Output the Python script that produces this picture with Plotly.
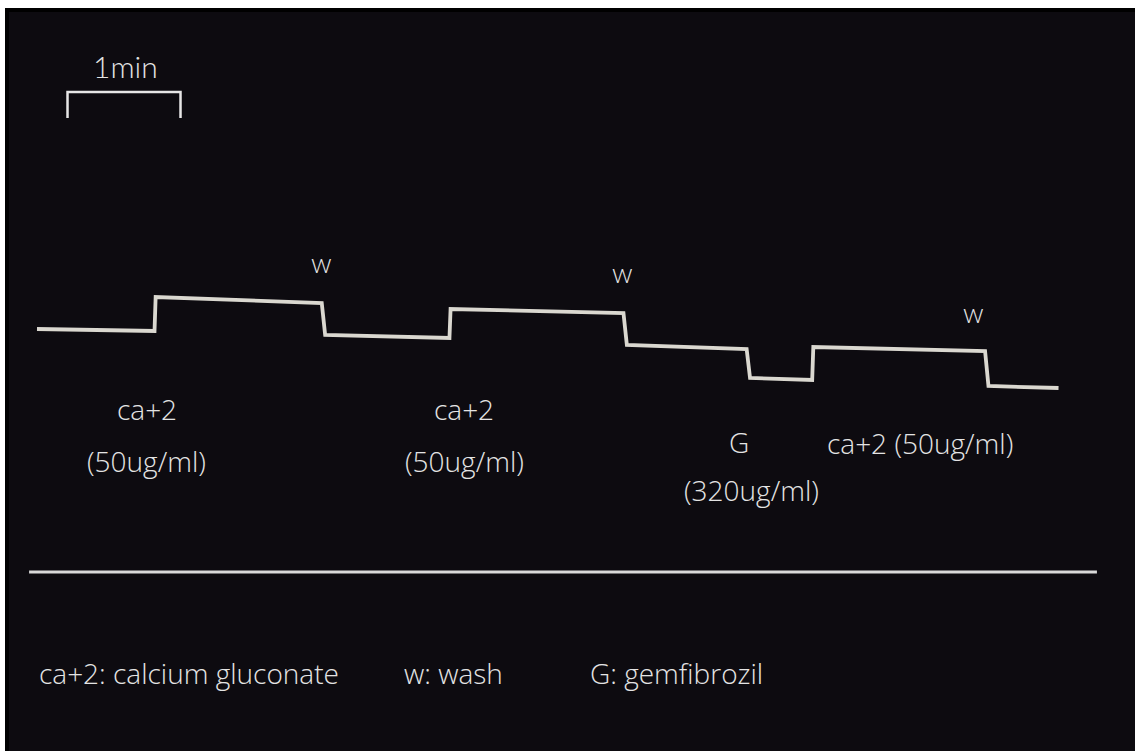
"""
Recreate the isolated tissue recording chart (calcium gluconate / gemfibrozil)
Step trace of tissue response with drug additions, washes and a 1 min scale bar
"""

import plotly.graph_objects as go

# Recorded trace: time in minutes from the start of the tracing, response in arbitrary units
time_min = [0.00, 1.04, 1.05, 2.52, 2.55, 3.65, 3.66, 5.19, 5.22, 6.28, 6.31, 6.86, 6.87, 8.39, 8.42, 9.04]
response = [0.0, -0.2, 3.2, 2.6, -0.6, -0.9, 2.0, 1.6, -1.6, -2.0, -4.9, -5.1, -1.8, -2.2, -5.7, -5.9]

# Scale bar (1 minute)
scale_bar_t = [0.27, 0.27, 1.27, 1.27]
scale_bar_v = [21.1, 23.7, 23.7, 21.1]

# Wash marks
wash_t = [2.52, 5.18, 8.29]
wash_v = [6.6, 5.6, 1.6]

# Drug labels (text, time, level)
drug_labels = ["ca+2", "(50ug/ml)", "ca+2", "(50ug/ml)", "G", "(320ug/ml)", "ca+2 (50ug/ml)"]
drug_t = [0.97, 0.97, 3.78, 3.78, 6.21, 6.32, 7.81]
drug_v = [-8.0, -13.2, -8.0, -13.2, -11.3, -16.1, -11.4]

# Key below the separator
key_labels = ["ca+2: calcium gluconate", "w: wash", "G: gemfibrozil"]
key_t = [0.00, 3.23, 4.88]
key_v = -34.4

TITLE = ("Effect of calcium gluconate and gemfibrozil on contractions of the "
         "isolated ileum preparation of guinea pig")

W, H = 1135, 751
TXT = "#e4e4e4"
FONT = "'Open Sans', Lato, 'Noto Sans', sans-serif"
FONT_NARROW = "Lato, 'Noto Sans', sans-serif"


def build_figure():
    fig = go.Figure()

    # tissue response trace
    fig.add_trace(go.Scatter(
        x=time_min, y=response, mode="lines",
        line=dict(color="#dad8d0", width=3.8),
        hoverinfo="skip", showlegend=False
    ))

    # 1 min bracket
    fig.add_trace(go.Scatter(
        x=scale_bar_t, y=scale_bar_v, mode="lines",
        line=dict(color="#e6e6e6", width=2.5),
        hoverinfo="skip", showlegend=False
    ))

    annotations = []
    annotations.append(dict(x=0.78, y=26.3, text="1min",
                            font=dict(size=30, color=TXT, family=FONT_NARROW, weight=300)))
    for t, v in zip(wash_t, wash_v):
        annotations.append(dict(x=t, y=v, text="w",
                                font=dict(size=27, color=TXT, family=FONT_NARROW, weight=300)))
    for txt, t, v in zip(drug_labels, drug_t, drug_v):
        annotations.append(dict(x=t, y=v, text=txt,
                                font=dict(size=28, color=TXT, family=FONT, weight=300)))
    for txt, t in zip(key_labels, key_t):
        annotations.append(dict(x=t, y=key_v, text=txt, xanchor="left",
                                font=dict(size=28, color=TXT, family=FONT, weight=300)))
    for a in annotations:
        a.update(xref="x", yref="y", showarrow=False)
        a.setdefault("xanchor", "center")
        a["yanchor"] = "middle"

    # page title, mostly cut off at the top of the page (only descenders show)
    annotations.append(dict(
        x=605 / W, y=1, xref="paper", yref="paper", xanchor="center", yanchor="bottom",
        yshift=-2, showarrow=False, text=TITLE,
        font=dict(size=18, color="#111111", family="'Liberation Serif', 'DejaVu Serif', serif")
    ))

    shapes = [
        # inner (slightly lighter) photo area inside the black border
        dict(type="rect", xref="paper", yref="paper", layer="below",
             x0=9 / W, x1=1, y0=0, y1=1 - 12 / H,
             fillcolor="#0d0b10", line=dict(width=0)),
        # separator line
        dict(type="line", xref="x", yref="y", x0=-0.07, x1=9.38, y0=-24.3, y1=-24.3,
             line=dict(color="#d9d9d9", width=3)),
    ]

    fig.update_layout(
        width=W, height=H,
        margin=dict(l=0, r=0, t=0, b=0),
        paper_bgcolor="white",
        plot_bgcolor="#000000",
        showlegend=False,
        annotations=annotations,
        shapes=shapes,
        xaxis=dict(domain=[5 / W, 1], range=[-32 / 113, 1098 / 113],
                   visible=False, fixedrange=True),
        yaxis=dict(domain=[0, 1 - 8 / H], range=[-42.2, 32.1],
                   visible=False, fixedrange=True),
    )
    return fig


def main():
    fig = build_figure()
    # drop the default 8px body margin so the figure sits at the page corner
    fig.write_html("out.html", config={"displayModeBar": False},
                   post_script="document.body.style.margin='0';")


if __name__ == "__main__":
    main()
